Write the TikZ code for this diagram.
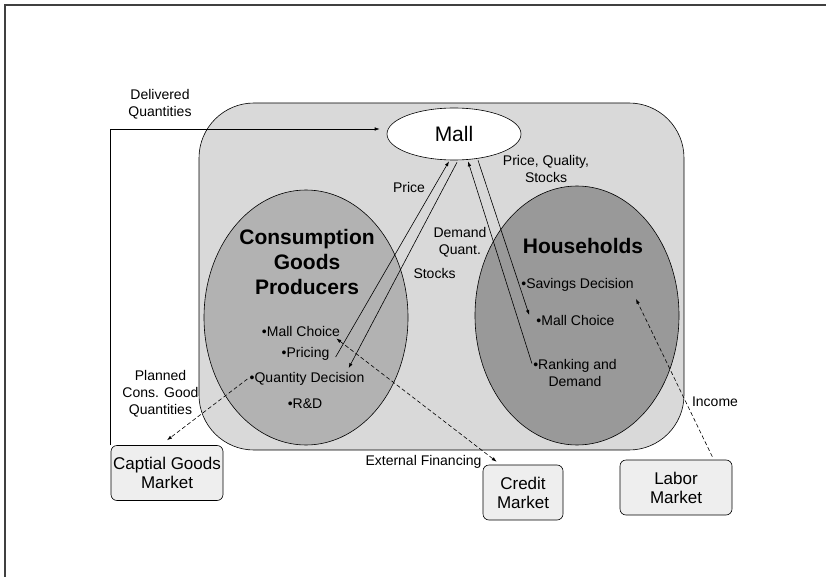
\documentclass[tikz,border=0pt]{standalone}
\usepackage{fontspec}
\setmainfont{Liberation Sans}
\usetikzlibrary{shapes.geometric,arrows.meta}

\begin{document}
\begin{tikzpicture}[x=1pt,y=-1pt,>={Latex[length=5pt,width=3.5pt]},line width=0.6pt]
  \tikzstyle{flowtext}=[align=center,font=\fontsize{14}{17}\selectfont,inner sep=1pt]
  \tikzstyle{task}=[align=center,font=\fontsize{14}{17}\selectfont,inner sep=1pt]
  \tikzstyle{head}=[align=center,font=\fontsize{21}{25}\selectfont\bfseries,inner sep=0pt]
  \tikzstyle{sector}=[ellipse,draw=black,minimum width=204pt,inner sep=0pt]
  \tikzstyle{market}=[draw=black,rounded corners=6pt,fill=gray!13,minimum width=112pt,
                      minimum height=55pt,align=center,font=\fontsize{17}{19}\selectfont,inner sep=0pt]
  \tikzstyle{dflow}=[->,dash pattern=on 4pt off 2.5pt]

  \useasboundingbox (0,0) rectangle (826,577);
  \draw[gray!50!black,line width=1.5pt] (5,577) -- (5,5) -- (826,5);

  \node[draw=black,fill=gray!30,rounded corners=55pt,minimum width=485pt,
        minimum height=347pt] (economy) at (441.5,276.5) {};
  \node[sector,fill=gray!60,minimum height=255pt] (cgp) at (306,317.5) {};
  \node[sector,fill=gray!80,minimum height=259pt] (hh) at (577,315.5) {};
  \node[ellipse,draw=black,fill=white,minimum width=134pt,minimum height=52pt,
        font=\fontsize{21}{25}\selectfont] (mall) at (454,134) {Mall};

  \node[head] (cgp-title) at (307,262) {Consumption\\Goods\\Producers};
  \node[head] (hh-title) at (583,246) {Households};

  \foreach \name/\x/\y/\text in {cmall/301/331/Mall Choice, pricing/305.5/354/Pricing,
                                 qty/307/379/Quantity Decision, rnd/305/404/R\&D,
                                 savings/577.5/285/Savings Decision, hmall/575.5/320/Mall Choice}
    \node[task] (\name) at (\x,\y) {\textbullet\text};
  \node[task] (rank) at (575,372.5) {\textbullet Ranking and\\Demand};

  \node[market] (capital) at (167,473) {Captial Goods\\Market};
  \node[market,minimum width=80pt] (credit) at (523,492.5) {Credit\\Market};
  \node[market] (labor) at (676,487.5) {Labor\\Market};

  \node[flowtext] (delivered) at (160,104) {Delivered\\Quantities};
  \node[flowtext] (price) at (409,187) {Price};
  \node[flowtext] (pqs) at (546,169) {Price, Quality,\\Stocks};
  \node[flowtext] (demand) at (460,242) {Demand\\Quant.};
  \node[flowtext] (stocks) at (434.5,273) {Stocks};
  \node[flowtext] (planned) at (160.5,394) {Planned\\Cons. Good\\Quantities};
  \node[flowtext] (external) at (423.5,462) {External Financing};
  \node[flowtext] (income) at (715,402) {Income};

  \draw[->,shorten >=7pt] (capital.north west) |- ([yshift=5pt]mall.west);
  \draw[->] ([xshift=5pt,yshift=-3pt]pricing.east) -- ([xshift=-5pt,yshift=-1pt]mall.south);
  \draw[->] ([xshift=3pt,yshift=-2pt]mall.south) -- ([xshift=-17pt,yshift=3pt]qty.north east);
  \draw[->] ([yshift=-6pt]rank.north west) -- ([xshift=14pt,yshift=-1pt]mall.south);
  \draw[->] ([xshift=24pt]mall.south) -- ([xshift=-6pt,yshift=5pt]hmall.west);

  \draw[dflow] ([xshift=-1pt]qty.west) -- ([yshift=5pt]capital.north);
  \draw[dflow,<->] ([xshift=-5pt,yshift=-1pt]cmall.south east) -- ([xshift=14pt,yshift=3pt]credit.north west);
  \draw[dflow] ([xshift=-20pt,yshift=3pt]labor.north east) -- ([xshift=1pt,yshift=-6pt]savings.south east);

\end{tikzpicture}
\end{document}
